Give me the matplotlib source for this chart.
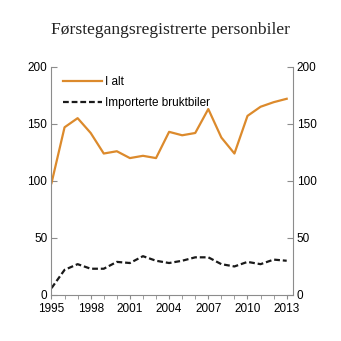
import matplotlib.pyplot as plt
import numpy as np

years = np.arange(1995, 2014)
i_alt = [98, 147, 155, 142, 124, 126, 120, 122, 120, 143, 140, 142, 163, 138, 124, 157, 165, 169, 172]
importerte = [6, 22, 27, 23, 23, 29, 28, 34, 30, 28, 30, 33, 33, 27, 25, 29, 27, 31, 30]
xticks = [1995, 1998, 2001, 2004, 2007, 2010, 2013]
yticks = [0, 50, 100, 150, 200]

plt.rcParams['font.family'] = ['Liberation Sans', 'DejaVu Sans']
grey = "#8c8c8c"

fig = plt.figure(figsize=(3.41, 3.41), dpi=100)
ax = fig.add_axes([0.151, 0.135, 0.707, 0.669])

ax.plot(years, i_alt, color="#DC8A2C", lw=1.6, label="I alt")
ax.plot(years, importerte, color="#1a1a1a", lw=1.6, ls=(0, (2.6, 1.3)), label="Importerte bruktbiler")

ax.set_xlim(1995, 2013.45)
ax.set_ylim(0, 200)
ax.set_xticks(xticks)
ax.set_xticks(years, minor=True)
ax.set_yticks(yticks)

for s in ["left", "right", "bottom"]:
    ax.spines[s].set_color(grey)
ax.spines["top"].set_visible(False)

ax.tick_params(axis="x", which="both", direction="out", length=3, color=grey, labelsize=8.5, pad=3)
ax.tick_params(axis="y", direction="in", length=4, color=grey, labelsize=8.5,
               left=True, right=True, labelleft=True, labelright=True, pad=3)

ax.legend(loc="upper left", frameon=False, fontsize=8.5, handlelength=3.3,
          handletextpad=0.25, labelspacing=0.75, borderaxespad=0.58, bbox_to_anchor=(0.0, 1.01))

fig.text(0.5, 0.912, "Førstegangsregistrerte personbiler", ha="center", va="center",
         fontsize=12.6, family="Liberation Serif", color="#222222")

fig.savefig("out.png", dpi=100)
